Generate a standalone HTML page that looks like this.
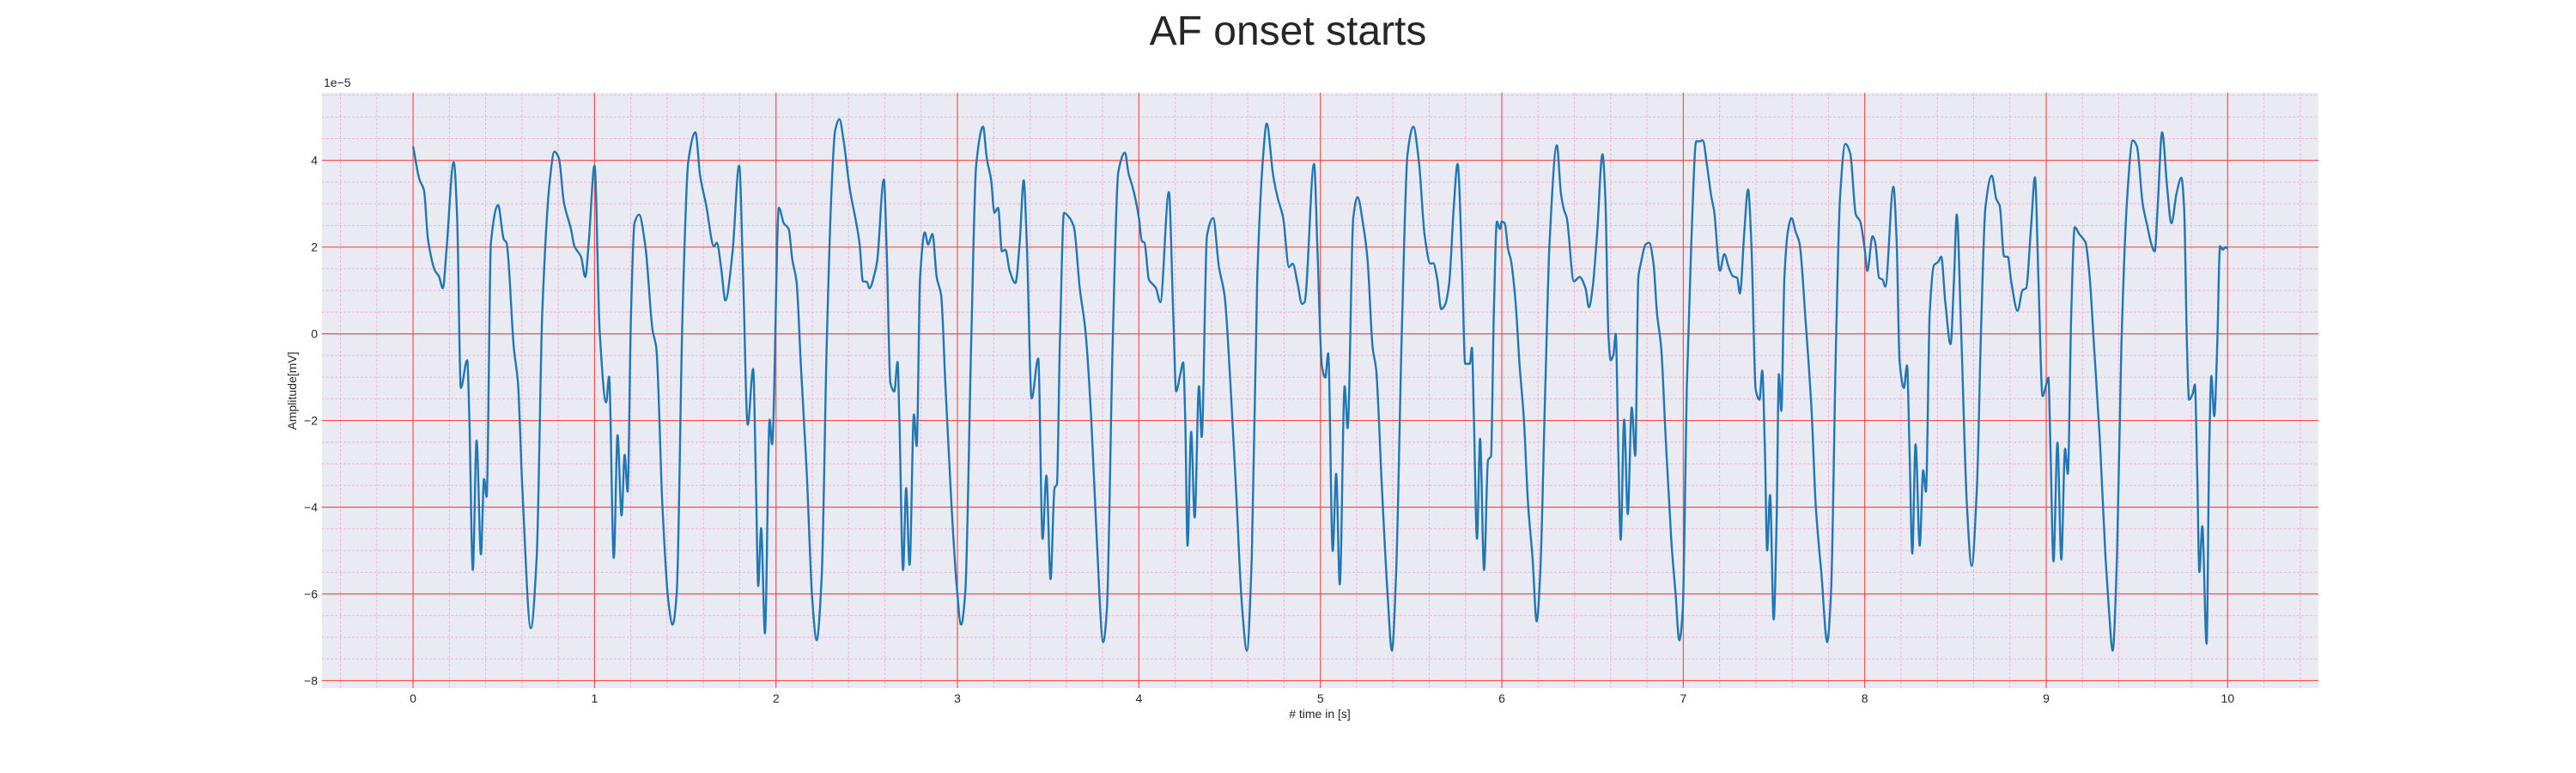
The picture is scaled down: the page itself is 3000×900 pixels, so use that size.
<!DOCTYPE html>
<html><head><meta charset="utf-8"><style>
html,body{margin:0;padding:0;background:#fff;}
svg{display:block;font-family:"Liberation Sans",sans-serif;}
</style></head><body>
<svg id="chart" width="3000" height="900" viewBox="0 0 3000 900">
<text x="1500" y="52" text-anchor="middle" font-size="48" fill="#262626">AF onset starts</text>
<rect x="375" y="108" width="2325" height="693" fill="#eaeaf2"/>
<g id="grid"></g>
<g id="ticks" font-size="14" fill="#262626"></g>
<path id="signal" fill="none" stroke="#1f77b4" stroke-width="2.4" stroke-linejoin="round"/>
<text x="377" y="101" font-size="14" fill="#262626">1e−5</text>
<text x="1537" y="836" text-anchor="middle" font-size="14" fill="#262626"># time in [s]</text>
<text transform="translate(345,455) rotate(-90)" text-anchor="middle" font-size="14" fill="#262626">Amplitude[mV]</text>
</svg>
<script>
const xTicks=[0,1,2,3,4,5,6,7,8,9,10];
const yTicks=[-8,-6,-4,-2,0,2,4];
const times=[0,.035,.06,.082,.121,.142,.164,.184,.224,.243,.263,.298,.31,.329,.35,.374,.391,.405,.429,.468,.5,.515,.555,.578,.602,.649,.681,.712,.752,.779,.804,.831,.87,.889,.925,.949,.968,1.0,1.028,1.064,1.08,1.106,1.127,1.149,1.166,1.182,1.201,1.22,1.245,1.28,1.32,1.34,1.374,1.406,1.43,1.453,1.485,1.516,1.556,1.582,1.614,1.658,1.674,1.697,1.721,1.76,1.797,1.819,1.844,1.874,1.89,1.902,1.918,1.939,1.965,1.978,2.016,2.043,2.07,2.09,2.113,2.137,2.169,2.2,2.224,2.252,2.279,2.306,2.326,2.35,2.373,2.405,2.46,2.479,2.5,2.515,2.547,2.558,2.594,2.61,2.63,2.652,2.67,2.68,2.7,2.717,2.736,2.76,2.775,2.794,2.82,2.838,2.862,2.886,2.91,2.933,2.965,2.996,3.02,3.043,3.075,3.103,3.141,3.162,3.185,3.204,3.224,3.245,3.264,3.288,3.319,3.343,3.365,3.382,3.409,3.445,3.469,3.49,3.513,3.535,3.548,3.564,3.587,3.611,3.642,3.674,3.705,3.737,3.768,3.803,3.823,3.855,3.886,3.923,3.942,3.97,4.0,4.016,4.031,4.055,4.079,4.094,4.118,4.165,4.189,4.205,4.228,4.244,4.255,4.268,4.288,4.307,4.331,4.346,4.375,4.409,4.441,4.472,4.504,4.535,4.567,4.595,4.622,4.652,4.685,4.704,4.74,4.764,4.795,4.827,4.847,4.874,4.898,4.913,4.965,4.984,5.008,5.027,5.043,5.068,5.087,5.107,5.134,5.15,5.181,5.205,5.236,5.26,5.288,5.307,5.339,5.37,5.394,5.417,5.449,5.48,5.512,5.543,5.575,5.606,5.622,5.643,5.666,5.685,5.709,5.735,5.756,5.78,5.798,5.824,5.835,5.846,5.863,5.88,5.902,5.924,5.94,5.956,5.973,5.989,6.0,6.016,6.035,6.05,6.074,6.098,6.121,6.145,6.169,6.192,6.211,6.24,6.263,6.303,6.326,6.342,6.358,6.397,6.429,6.461,6.48,6.5,6.524,6.555,6.571,6.587,6.6,6.615,6.628,6.642,6.655,6.674,6.694,6.716,6.735,6.752,6.768,6.792,6.812,6.836,6.855,6.878,6.902,6.934,6.957,6.978,6.997,7.02,7.044,7.071,7.091,7.107,7.131,7.155,7.17,7.202,7.226,7.25,7.273,7.297,7.312,7.336,7.357,7.375,7.399,7.42,7.435,7.45,7.462,7.478,7.498,7.514,7.527,7.54,7.557,7.577,7.596,7.62,7.64,7.675,7.707,7.73,7.762,7.793,7.814,7.841,7.864,7.893,7.92,7.951,7.975,8.0,8.014,8.043,8.058,8.079,8.098,8.113,8.158,8.176,8.192,8.216,8.233,8.247,8.262,8.28,8.303,8.322,8.337,8.358,8.381,8.405,8.421,8.444,8.473,8.492,8.507,8.531,8.563,8.589,8.618,8.641,8.665,8.7,8.725,8.744,8.768,8.788,8.807,8.842,8.87,8.889,8.917,8.938,8.957,8.98,9.0,9.012,9.024,9.04,9.062,9.083,9.104,9.119,9.138,9.157,9.182,9.217,9.24,9.264,9.295,9.327,9.346,9.366,9.39,9.414,9.445,9.477,9.5,9.532,9.556,9.58,9.598,9.614,9.639,9.666,9.69,9.718,9.745,9.76,9.776,9.787,9.808,9.819,9.832,9.844,9.86,9.884,9.898,9.91,9.926,9.942,9.958,9.973,9.989,10.0];
const amplitude=[4.32,3.56,3.31,2.18,1.45,1.33,1.05,1.94,3.96,2.67,-1.25,-.61,-1.94,-5.45,-2.46,-5.09,-3.35,-3.76,2.10,2.97,2.18,2.10,-.32,-1.13,-3.56,-6.79,-5.17,.48,3.47,4.20,4.04,3.03,2.42,2.02,1.78,1.31,2.10,3.88,.08,-1.58,-.99,-5.17,-2.34,-4.19,-2.79,-3.64,.48,2.55,2.75,2.02,.08,-.32,-3.96,-6.14,-6.71,-5.98,.48,3.96,4.65,3.64,2.99,2.02,2.10,1.54,.77,1.86,3.88,1.29,-2.10,-.81,-3.56,-5.82,-4.48,-6.91,-1.98,-2.55,2.91,2.55,2.42,1.70,1.21,-.73,-3.15,-6.14,-7.07,-5.58,-.32,3.31,4.69,4.95,4.44,3.39,2.10,1.21,1.20,1.05,1.45,1.70,3.56,1.94,-1.13,-1.33,-.65,-1.94,-5.45,-3.56,-5.33,-1.86,-2.59,1.29,2.34,2.06,2.30,1.29,.89,-1.13,-3.80,-5.82,-6.71,-5.98,-.32,3.88,4.78,4.04,3.56,2.79,2.91,1.90,1.94,1.45,1.17,2.10,3.54,2.10,-1.49,-.57,-4.73,-3.27,-5.66,-3.56,-3.47,-.32,2.79,2.71,2.46,1.05,.08,-1.94,-4.77,-7.11,-6.38,-.32,3.72,4.18,3.72,3.31,2.67,2.14,2.10,1.25,1.13,1.05,.73,3.27,.48,-1.33,-.93,-.66,-1.94,-4.89,-2.26,-4.24,-1.21,-2.38,2.26,2.67,1.54,.89,-1.13,-3.56,-6.22,-7.31,-5.17,1.29,4.12,4.85,3.64,3.15,2.67,1.54,1.62,1.17,.69,.73,3.92,1.94,-.73,-1.01,-.45,-5.01,-3.23,-5.78,-1.21,-2.18,2.67,3.15,2.51,1.70,-.32,-.81,-3.56,-5.98,-7.31,-5.58,.08,4.12,4.78,3.96,2.26,1.62,1.63,1.29,.57,.65,1.13,2.91,3.92,1.70,-.69,-.69,-.32,-1.94,-4.73,-2.42,-5.45,-2.91,-2.83,.48,2.59,2.42,2.59,2.55,1.94,1.70,.81,-.73,-1.94,-3.96,-5.17,-6.63,-5.58,-1.13,2.10,4.35,3.23,2.87,2.67,1.21,1.31,1.05,.61,1.05,2.26,4.14,3.07,0,-.61,-.48,0,-2.75,-4.75,-1.98,-4.16,-1.70,-2.81,1.29,1.66,2.06,2.10,1.62,.48,-.32,-2.34,-4.77,-5.98,-7.07,-6.38,-1.13,2.10,4.44,4.44,4.46,3.88,3.15,2.83,1.45,1.84,1.54,1.33,1.29,.93,2.34,3.33,2.10,-1.29,-1.52,-.85,-2.75,-5.0,-3.72,-6.59,-4.36,-.93,-1.78,1.29,2.38,2.67,2.34,2.10,.24,-1.78,-3.96,-5.58,-7.11,-5.98,-.32,3.15,4.38,4.16,2.75,2.59,1.94,1.45,2.25,2.10,1.29,1.25,1.09,3.39,2.10,-.65,-1.25,-.73,-2.75,-5.07,-2.55,-4.89,-3.15,-3.64,.48,1.58,1.66,1.78,.73,-.24,1.29,2.75,.08,-3.96,-5.35,-3.56,.08,2.91,3.65,3.11,2.95,1.78,1.78,1.21,.53,1.01,1.05,2.51,3.61,1.29,-1.44,-1.17,-1.01,-2.75,-5.25,-2.51,-5.21,-2.65,-3.23,.48,2.46,2.30,2.10,1.29,-.32,-2.42,-5.17,-6.38,-7.31,-5.17,-.32,3.07,4.46,4.32,2.99,2.51,2.06,1.90,2.91,4.65,3.39,2.55,3.23,3.60,2.91,-.32,-1.52,-1.37,-1.17,-3.15,-5.50,-4.44,-7.15,-2.75,-.97,-1.90,-.32,2.02,1.94,2.00,1.96];

const L=375,R=2700,T=108,B=801;
const xMin=-0.502,xMax=10.50,yMin=-8.17,yMax=5.56;
const sx=t=>L+(t-xMin)/(xMax-xMin)*(R-L);
const sy=v=>B-(v-yMin)/(yMax-yMin)*(B-T);
const NS='http://www.w3.org/2000/svg';
const grid=document.getElementById('grid'),ticks=document.getElementById('ticks');
function line(x1,y1,x2,y2,stroke,w,dash,name){
  const l=document.createElementNS(NS,'line');
  l.setAttribute('x1',x1);l.setAttribute('y1',y1);l.setAttribute('x2',x2);l.setAttribute('y2',y2);
  l.setAttribute('stroke',stroke);l.setAttribute('stroke-width',w);
  if(dash)l.setAttribute('stroke-dasharray',dash);
  
  
  grid.appendChild(l);
}
for(let i=-2;i<=52;i++){const t=i*0.2;if(i%5===0)continue;const x=sx(t);if(x<L||x>R)continue;line(x,T,x,B,'#f2b0e0',1,'3,2','x-minor-gridline');}
for(let i=-16;i<=11;i++){const v=i*0.5;if(i%4===0)continue;const y=sy(v);if(y<T||y>B)continue;line(L,y,R,y,'#f2b0e0',1,'3,2','y-minor-gridline');}
xTicks.forEach(t=>{line(sx(t),T,sx(t),B,'#ff4d4d',1.2,null,'x-major-gridline');
  const tx=document.createElementNS(NS,'text');tx.setAttribute('x',sx(t));tx.setAttribute('y',B+17);tx.setAttribute('text-anchor','middle');tx.textContent=t;
  
  
  ticks.appendChild(tx);});
yTicks.forEach(v=>{line(L,sy(v),R,sy(v),'#ff4d4d',1.2,null,'y-major-gridline');
  const tx=document.createElementNS(NS,'text');tx.setAttribute('x',L-5);tx.setAttribute('y',sy(v)+5);tx.setAttribute('text-anchor','end');tx.textContent=String(v).replace('-','−');
  
  
  ticks.appendChild(tx);});
// monotone cubic (Fritsch–Carlson) smoothing through the data points
const px=times.map(sx), py=amplitude.map(sy), n=px.length;
const dl=[],m=[];
for(let i=0;i<n-1;i++)dl.push((py[i+1]-py[i])/(px[i+1]-px[i]));
m[0]=dl[0];m[n-1]=dl[n-2];
for(let i=1;i<n-1;i++){m[i]=(dl[i-1]*dl[i]<=0)?0:(2*dl[i-1]*dl[i])/(dl[i-1]+dl[i]);}
let d='M'+px[0].toFixed(1)+' '+py[0].toFixed(1);
for(let i=0;i<n-1;i++){const h=(px[i+1]-px[i])/3;
  d+='C'+(px[i]+h).toFixed(1)+' '+(py[i]+m[i]*h).toFixed(1)+' '+(px[i+1]-h).toFixed(1)+' '+(py[i+1]-m[i+1]*h).toFixed(1)+' '+px[i+1].toFixed(1)+' '+py[i+1].toFixed(1);}
document.getElementById('signal').setAttribute('d',d);
</script>
</body></html>
